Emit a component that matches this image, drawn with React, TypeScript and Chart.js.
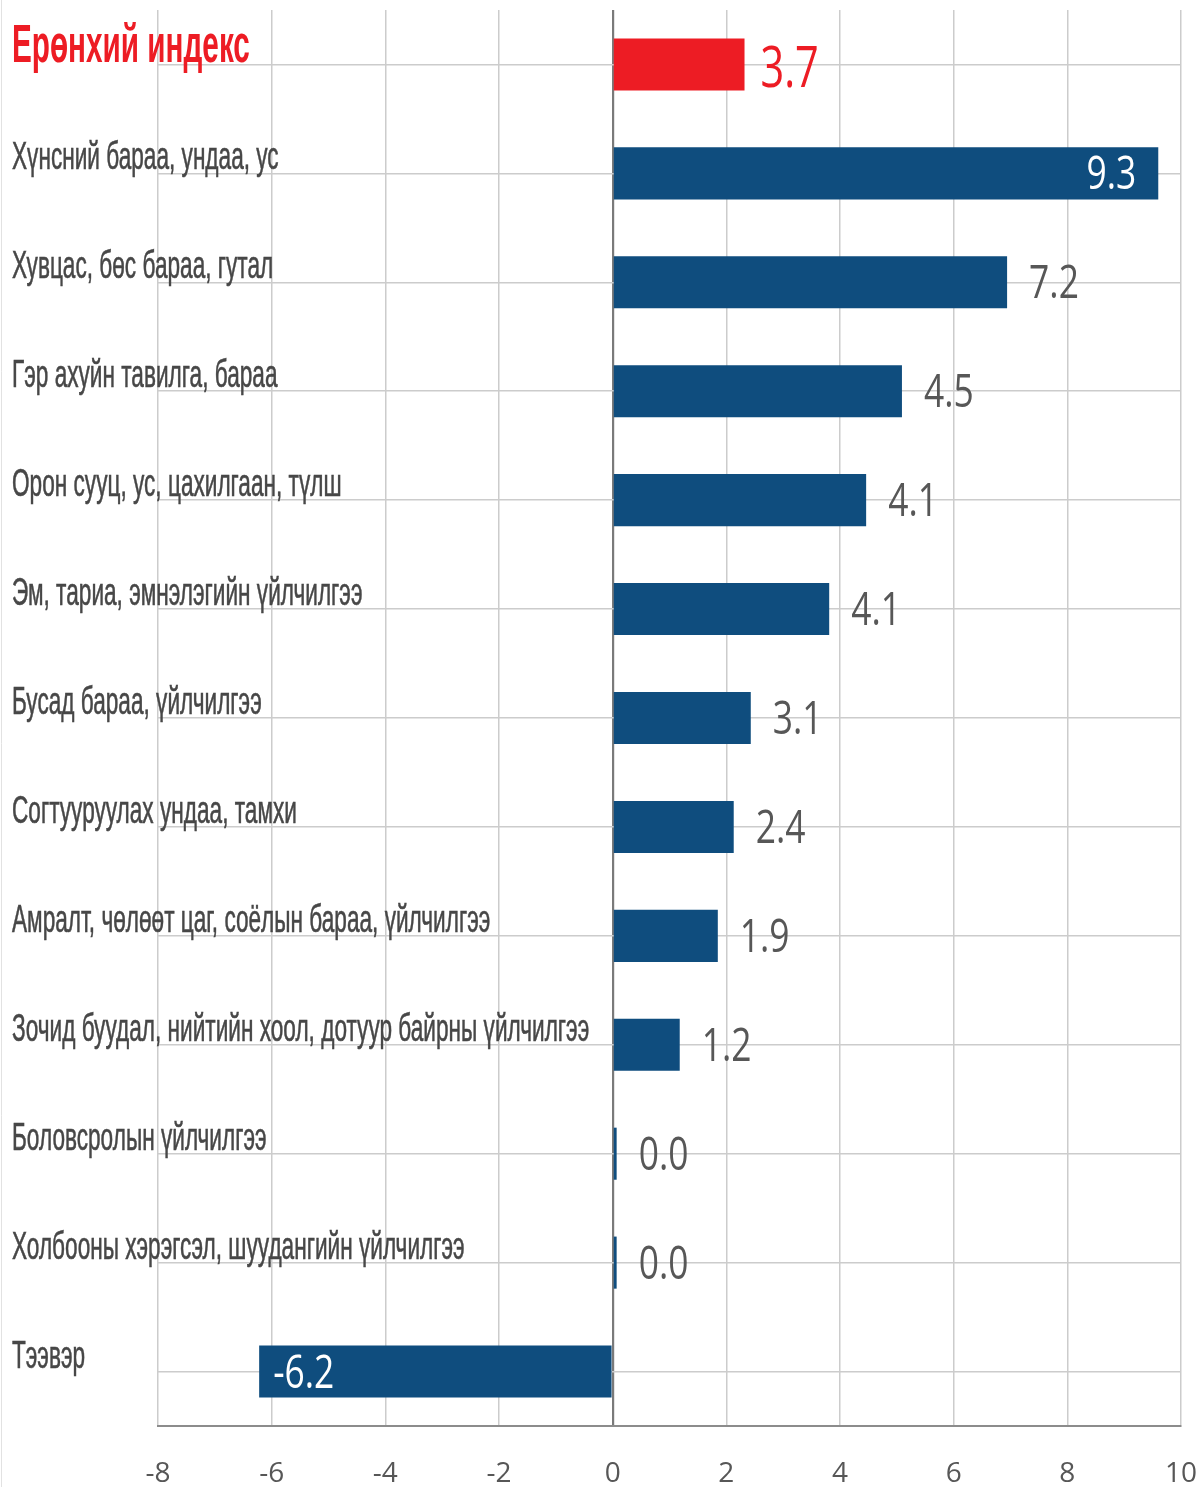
import React, { useEffect, useRef } from 'react';
import { Chart, registerables } from 'chart.js';

Chart.register(...registerables);

const categories: string[] = [
  'Ерөнхий индекс',
  'Хүнсний бараа, ундаа, ус',
  'Хувцас, бөс бараа, гутал',
  'Гэр ахуйн тавилга, бараа',
  'Орон сууц, ус, цахилгаан, түлш',
  'Эм, тариа, эмнэлэгийн үйлчилгээ',
  'Бусад бараа, үйлчилгээ',
  'Согтууруулах ундаа, тамхи',
  'Амралт, чөлөөт цаг, соёлын бараа, үйлчилгээ',
  'Зочид буудал, нийтийн хоол, дотуур байрны үйлчилгээ',
  'Боловсролын үйлчилгээ',
  'Холбооны хэрэгсэл, шуудангийн үйлчилгээ',
  'Тээвэр',
];

// bar lengths as drawn in the picture
const barValues: number[] = [2.32, 9.6, 6.94, 5.09, 4.46, 3.81, 2.43, 2.13, 1.85, 1.18, 0.07, 0.07, -6.22];

// value labels as printed in the picture
const valueLabels: string[] = ['3.7', '9.3', '7.2', '4.5', '4.1', '4.1', '3.1', '2.4', '1.9', '1.2', '0.0', '0.0', '-6.2'];

const xMin = -8;
const xMax = 10;
const xStep = 2;

const BLUE = '#0f4d7e';
const RED = '#ed1c24';
const LABEL_GRAY = '#474747';
const VALUE_GRAY = '#575757';

const W = 1198;
const H = 1487;

const labelsPlugin = {
  id: 'customLabels',
  afterDraw(chart: any) {
    const ctx: CanvasRenderingContext2D = chart.ctx;
    const yScale = chart.scales.y;
    const meta = chart.getDatasetMeta(0);
    ctx.save();
    // faint left border
    ctx.strokeStyle = '#e2e2e2';
    ctx.lineWidth = 1;
    ctx.beginPath();
    ctx.moveTo(1.5, 0);
    ctx.lineTo(1.5, chart.height);
    ctx.stroke();

    categories.forEach((c, i) => {
      const cy = yScale.getPixelForValue(i);
      const isTitle = i === 0;
      ctx.save();
      ctx.font = isTitle
        ? 'bold 54px "Liberation Sans", Arial, sans-serif'
        : '39px "Liberation Sans", Arial, sans-serif';
      ctx.fillStyle = isTitle ? RED : LABEL_GRAY;
      ctx.textAlign = 'left';
      ctx.textBaseline = 'alphabetic';
      ctx.translate(12, cy + (isTitle ? -2 : -4));
      ctx.scale(isTitle ? 0.55 : 0.58, 1);
      ctx.fillText(c, 0, 0);
      if (!isTitle) {
        ctx.lineWidth = 0.6;
        ctx.strokeStyle = LABEL_GRAY;
        ctx.strokeText(c, 0, 0);
      }
      ctx.restore();
    });

    meta.data.forEach((bar: any, i: number) => {
      const v = barValues[i];
      const text = valueLabels[i];
      const isTitle = i === 0;
      const size = isTitle ? 56 : 46;
      const sx = isTitle ? 0.74 : 0.77;
      ctx.save();
      ctx.font = `${size}px "Open Sans", sans-serif`;
      ctx.textAlign = 'left';
      ctx.textBaseline = 'alphabetic';
      const w = ctx.measureText(text).width * sx;
      const props = bar.getProps(['x', 'y'], true);
      const baseline = props.y + (isTitle ? 23 : 16);
      let tx: number;
      let color: string;
      if (v < 0) {
        tx = props.x + 14;
        color = '#ffffff';
      } else if (props.x + 22 + w > chart.chartArea.right) {
        tx = props.x - 22 - w;
        color = '#ffffff';
      } else {
        tx = props.x + (isTitle ? 16 : 22);
        color = isTitle ? RED : VALUE_GRAY;
      }
      ctx.fillStyle = color;
      ctx.translate(tx, baseline);
      ctx.scale(sx, 1);
      ctx.fillText(text, 0, 0);
      ctx.restore();
    });
    ctx.restore();
  },
};

export default function App() {
  const canvasRef = useRef<HTMLCanvasElement | null>(null);

  useEffect(() => {
    if (!canvasRef.current) return;
    const chart = new Chart(canvasRef.current, {
      type: 'bar',
      data: {
        labels: categories,
        datasets: [
          {
            data: barValues,
            backgroundColor: barValues.map((_, i) => (i === 0 ? RED : BLUE)),
            borderWidth: 0,
            barPercentage: 1,
            categoryPercentage: 0.478,
          },
        ],
      },
      options: {
        indexAxis: 'y',
        responsive: false,
        maintainAspectRatio: false,
        animation: false,
        layout: { padding: { left: 158, right: 17, top: 10, bottom: 0 } },
        plugins: {
          legend: { display: false },
          tooltip: { enabled: false },
        },
        scales: {
          x: {
            type: 'linear',
            position: 'bottom',
            min: xMin,
            max: xMax,
            ticks: {
              stepSize: xStep,
              color: VALUE_GRAY,
              font: { family: '"Open Sans", sans-serif', size: 28 },
              padding: 31,
            },
            grid: {
              drawTicks: false,
              color: (c: any) => (c.tick && c.tick.value === 0 ? '#7a7a7a' : '#cccccc'),
              lineWidth: (c: any) => (c.tick && c.tick.value === 0 ? 2.2 : 1.5),
            },
            border: { display: true, color: '#8c8c8c', width: 2 },
            afterFit: (s: any) => {
              s.height = 61;
              s.paddingLeft = 0;
              s.paddingRight = 0;
            },
          },
          y: {
            type: 'category',
            ticks: { display: false },
            grid: { offset: false, drawTicks: false, color: '#cccccc', lineWidth: 1.5 },
            border: { display: false },
            afterFit: (s: any) => {
              s.width = 0;
            },
          },
        },
      },
      plugins: [labelsPlugin],
    } as any);
    return () => chart.destroy();
  }, []);

  return (
    <div style={{ position: 'fixed', left: 0, top: 0, width: W, height: H, background: '#ffffff' }}>
      <canvas ref={canvasRef} width={W} height={H} style={{ display: 'block', width: W, height: H }} />
    </div>
  );
}
